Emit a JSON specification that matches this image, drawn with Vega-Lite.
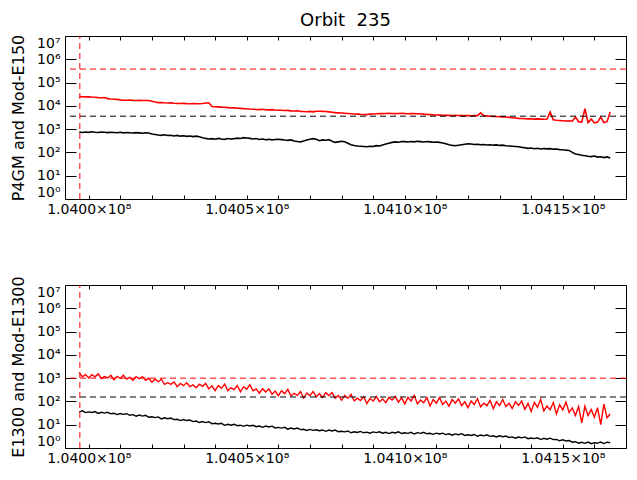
{
  "$schema": "https://vega.github.io/schema/vega-lite/v6.json",
  "padding": {"left": 9, "top": 11, "right": 5, "bottom": 5},
  "bounds": "flush",
  "spacing": 86,
  "datasets": {
    "d": [
      {"x":103997000,"mod_e150":24800,"p4gm":760,"mod_e1300":1700,"e1300":35.6},
      {"x":103998000,"mod_e150":24500,"p4gm":720,"mod_e1300":1150,"e1300":39.3},
      {"x":103999000,"mod_e150":24300,"p4gm":750,"mod_e1300":1415,"e1300":33.2},
      {"x":104000000,"mod_e150":24400,"p4gm":730,"mod_e1300":1009,"e1300":35.5},
      {"x":104001000,"mod_e150":23900,"p4gm":770,"mod_e1300":1407,"e1300":33.4},
      {"x":104002000,"mod_e150":23600,"p4gm":740,"mod_e1300":1148,"e1300":36.6},
      {"x":104003000,"mod_e150":22600,"p4gm":720,"mod_e1300":1521,"e1300":30.7},
      {"x":104004000,"mod_e150":22300,"p4gm":750,"mod_e1300":968,"e1300":34.4},
      {"x":104005000,"mod_e150":22700,"p4gm":730,"mod_e1300":1172,"e1300":31.5},
      {"x":104006000,"mod_e150":20500,"p4gm":710,"mod_e1300":1015,"e1300":34.3},
      {"x":104007000,"mod_e150":19600,"p4gm":740,"mod_e1300":1327,"e1300":29.4},
      {"x":104008000,"mod_e150":19300,"p4gm":720,"mod_e1300":844,"e1300":30.8},
      {"x":104009000,"mod_e150":19000,"p4gm":700,"mod_e1300":1195,"e1300":27.3},
      {"x":104010000,"mod_e150":18000,"p4gm":730,"mod_e1300":981,"e1300":30.4},
      {"x":104011000,"mod_e150":17500,"p4gm":690,"mod_e1300":1320,"e1300":27.9},
      {"x":104012000,"mod_e150":17300,"p4gm":720,"mod_e1300":905,"e1300":29.6},
      {"x":104013000,"mod_e150":17600,"p4gm":700,"mod_e1300":1071,"e1300":25.4},
      {"x":104014000,"mod_e150":17200,"p4gm":680,"mod_e1300":814,"e1300":27.1},
      {"x":104015000,"mod_e150":17000,"p4gm":710,"mod_e1300":1145,"e1300":23.3},
      {"x":104016000,"mod_e150":17300,"p4gm":690,"mod_e1300":940,"e1300":25.9},
      {"x":104017000,"mod_e150":17100,"p4gm":670,"mod_e1300":1162,"e1300":23.4},
      {"x":104018000,"mod_e150":16900,"p4gm":700,"mod_e1300":797,"e1300":25.3},
      {"x":104019000,"mod_e150":17000,"p4gm":680,"mod_e1300":985,"e1300":20.9},
      {"x":104020000,"mod_e150":15800,"p4gm":620,"mod_e1300":675,"e1300":21.9},
      {"x":104021000,"mod_e150":14600,"p4gm":590,"mod_e1300":904,"e1300":20.2},
      {"x":104022000,"mod_e150":13800,"p4gm":560,"mod_e1300":704,"e1300":21.7},
      {"x":104023000,"mod_e150":13900,"p4gm":540,"mod_e1300":896,"e1300":17.8},
      {"x":104024000,"mod_e150":13500,"p4gm":570,"mod_e1300":540,"e1300":19.8},
      {"x":104025000,"mod_e150":13300,"p4gm":530,"mod_e1300":637,"e1300":18.0},
      {"x":104026000,"mod_e150":13400,"p4gm":550,"mod_e1300":540,"e1300":19.4},
      {"x":104027000,"mod_e150":12900,"p4gm":510,"mod_e1300":689,"e1300":16.5},
      {"x":104028000,"mod_e150":12700,"p4gm":540,"mod_e1300":427,"e1300":17.1},
      {"x":104029000,"mod_e150":12600,"p4gm":500,"mod_e1300":591,"e1300":15.1},
      {"x":104030000,"mod_e150":12800,"p4gm":520,"mod_e1300":475,"e1300":16.7},
      {"x":104031000,"mod_e150":12500,"p4gm":490,"mod_e1300":635,"e1300":15.1},
      {"x":104032000,"mod_e150":12400,"p4gm":510,"mod_e1300":435,"e1300":15.9},
      {"x":104033000,"mod_e150":12600,"p4gm":480,"mod_e1300":511,"e1300":13.6},
      {"x":104034000,"mod_e150":12300,"p4gm":500,"mod_e1300":388,"e1300":14.3},
      {"x":104035000,"mod_e150":12400,"p4gm":470,"mod_e1300":546,"e1300":12.4},
      {"x":104036000,"mod_e150":12700,"p4gm":430,"mod_e1300":444,"e1300":13.7},
      {"x":104037000,"mod_e150":13300,"p4gm":400,"mod_e1300":594,"e1300":12.3},
      {"x":104038000,"mod_e150":13600,"p4gm":380,"mod_e1300":345,"e1300":13.4},
      {"x":104039000,"mod_e150":9400,"p4gm":390,"mod_e1300":468,"e1300":11.1},
      {"x":104040000,"mod_e150":9200,"p4gm":370,"mod_e1300":292,"e1300":11.6},
      {"x":104041000,"mod_e150":9000,"p4gm":400,"mod_e1300":481,"e1300":10.7},
      {"x":104042000,"mod_e150":8800,"p4gm":380,"mod_e1300":365,"e1300":11.5},
      {"x":104043000,"mod_e150":8700,"p4gm":365,"mod_e1300":557,"e1300":9.41},
      {"x":104044000,"mod_e150":8400,"p4gm":395,"mod_e1300":292,"e1300":10.5},
      {"x":104045000,"mod_e150":8100,"p4gm":375,"mod_e1300":385,"e1300":9.50},
      {"x":104046000,"mod_e150":8200,"p4gm":390,"mod_e1300":321,"e1300":10.5},
      {"x":104047000,"mod_e150":7900,"p4gm":410,"mod_e1300":482,"e1300":9.04},
      {"x":104048000,"mod_e150":7800,"p4gm":395,"mod_e1300":257,"e1300":9.54},
      {"x":104049000,"mod_e150":7600,"p4gm":430,"mod_e1300":430,"e1300":8.52},
      {"x":104050000,"mod_e150":7500,"p4gm":415,"mod_e1300":333,"e1300":9.60},
      {"x":104051000,"mod_e150":7300,"p4gm":400,"mod_e1300":517,"e1300":8.86},
      {"x":104052000,"mod_e150":7200,"p4gm":380,"mod_e1300":288,"e1300":9.49},
      {"x":104053000,"mod_e150":7000,"p4gm":395,"mod_e1300":348,"e1300":8.19},
      {"x":104054000,"mod_e150":6900,"p4gm":360,"mod_e1300":225,"e1300":8.82},
      {"x":104055000,"mod_e150":7100,"p4gm":375,"mod_e1300":352,"e1300":7.72},
      {"x":104056000,"mod_e150":6800,"p4gm":350,"mod_e1300":253,"e1300":8.72},
      {"x":104057000,"mod_e150":6700,"p4gm":365,"mod_e1300":346,"e1300":7.97},
      {"x":104058000,"mod_e150":6900,"p4gm":345,"mod_e1300":204,"e1300":8.69},
      {"x":104059000,"mod_e150":6600,"p4gm":360,"mod_e1300":278,"e1300":7.25},
      {"x":104060000,"mod_e150":6500,"p4gm":370,"mod_e1300":176,"e1300":7.67},
      {"x":104061000,"mod_e150":6500,"p4gm":355,"mod_e1300":288,"e1300":7.13},
      {"x":104062000,"mod_e150":6300,"p4gm":340,"mod_e1300":217,"e1300":7.73},
      {"x":104063000,"mod_e150":6400,"p4gm":330,"mod_e1300":328,"e1300":6.41},
      {"x":104064000,"mod_e150":6100,"p4gm":345,"mod_e1300":171,"e1300":7.18},
      {"x":104065000,"mod_e150":6000,"p4gm":310,"mod_e1300":223,"e1300":6.57},
      {"x":104066000,"mod_e150":6200,"p4gm":295,"mod_e1300":181,"e1300":7.18},
      {"x":104067000,"mod_e150":5800,"p4gm":285,"mod_e1300":264,"e1300":6.16},
      {"x":104068000,"mod_e150":5700,"p4gm":310,"mod_e1300":139,"e1300":6.40},
      {"x":104069000,"mod_e150":5600,"p4gm":340,"mod_e1300":230,"e1300":5.65},
      {"x":104070000,"mod_e150":5800,"p4gm":370,"mod_e1300":175,"e1300":6.28},
      {"x":104071000,"mod_e150":5500,"p4gm":390,"mod_e1300":269,"e1300":5.72},
      {"x":104072000,"mod_e150":5900,"p4gm":370,"mod_e1300":159,"e1300":6.05},
      {"x":104073000,"mod_e150":5900,"p4gm":320,"mod_e1300":220,"e1300":5.55},
      {"x":104074000,"mod_e150":5800,"p4gm":345,"mod_e1300":147,"e1300":5.95},
      {"x":104075000,"mod_e150":5700,"p4gm":335,"mod_e1300":238,"e1300":5.21},
      {"x":104076000,"mod_e150":5500,"p4gm":355,"mod_e1300":178,"e1300":5.87},
      {"x":104077000,"mod_e150":5300,"p4gm":300,"mod_e1300":240,"e1300":5.39},
      {"x":104078000,"mod_e150":5100,"p4gm":270,"mod_e1300":139,"e1300":5.92},
      {"x":104079000,"mod_e150":5000,"p4gm":285,"mod_e1300":181,"e1300":4.97},
      {"x":104080000,"mod_e150":4900,"p4gm":300,"mod_e1300":112,"e1300":5.27},
      {"x":104081000,"mod_e150":4800,"p4gm":290,"mod_e1300":182,"e1300":4.94},
      {"x":104082000,"mod_e150":4700,"p4gm":250,"mod_e1300":136,"e1300":5.39},
      {"x":104083000,"mod_e150":4600,"p4gm":215,"mod_e1300":204,"e1300":4.50},
      {"x":104084000,"mod_e150":4500,"p4gm":200,"mod_e1300":105,"e1300":4.97},
      {"x":104085000,"mod_e150":4400,"p4gm":190,"mod_e1300":137,"e1300":4.63},
      {"x":104086000,"mod_e150":4300,"p4gm":185,"mod_e1300":110,"e1300":5.15},
      {"x":104087000,"mod_e150":4250,"p4gm":180,"mod_e1300":160,"e1300":4.50},
      {"x":104088000,"mod_e150":4200,"p4gm":175,"mod_e1300":82,"e1300":4.79},
      {"x":104089000,"mod_e150":4400,"p4gm":185,"mod_e1300":133,"e1300":4.32},
      {"x":104090000,"mod_e150":4500,"p4gm":180,"mod_e1300":104,"e1300":4.93},
      {"x":104091000,"mod_e150":4600,"p4gm":195,"mod_e1300":162,"e1300":4.58},
      {"x":104092000,"mod_e150":4700,"p4gm":190,"mod_e1300":97,"e1300":4.96},
      {"x":104093000,"mod_e150":4650,"p4gm":210,"mod_e1300":127,"e1300":4.33},
      {"x":104094000,"mod_e150":4700,"p4gm":230,"mod_e1300":89,"e1300":4.70},
      {"x":104095000,"mod_e150":4750,"p4gm":250,"mod_e1300":149,"e1300":4.16},
      {"x":104096000,"mod_e150":4700,"p4gm":270,"mod_e1300":116,"e1300":4.75},
      {"x":104097000,"mod_e150":4650,"p4gm":285,"mod_e1300":163,"e1300":4.43},
      {"x":104098000,"mod_e150":4700,"p4gm":275,"mod_e1300":92,"e1300":4.93},
      {"x":104099000,"mod_e150":4750,"p4gm":295,"mod_e1300":142,"e1300":4.18},
      {"x":104100000,"mod_e150":4700,"p4gm":290,"mod_e1300":78,"e1300":4.50},
      {"x":104101000,"mod_e150":4600,"p4gm":280,"mod_e1300":150,"e1300":4.27},
      {"x":104102000,"mod_e150":4650,"p4gm":295,"mod_e1300":105,"e1300":4.72},
      {"x":104103000,"mod_e150":4700,"p4gm":285,"mod_e1300":183,"e1300":3.99},
      {"x":104104000,"mod_e150":4600,"p4gm":300,"mod_e1300":79,"e1300":4.56},
      {"x":104105000,"mod_e150":4550,"p4gm":290,"mod_e1300":114,"e1300":4.25},
      {"x":104106000,"mod_e150":4400,"p4gm":280,"mod_e1300":88,"e1300":4.69},
      {"x":104107000,"mod_e150":4300,"p4gm":295,"mod_e1300":146,"e1300":4.07},
      {"x":104108000,"mod_e150":4200,"p4gm":285,"mod_e1300":64,"e1300":4.30},
      {"x":104109000,"mod_e150":4100,"p4gm":275,"mod_e1300":121,"e1300":3.85},
      {"x":104110000,"mod_e150":4050,"p4gm":280,"mod_e1300":84,"e1300":4.35},
      {"x":104111000,"mod_e150":4000,"p4gm":270,"mod_e1300":148,"e1300":4.03},
      {"x":104112000,"mod_e150":3950,"p4gm":255,"mod_e1300":74,"e1300":4.34},
      {"x":104113000,"mod_e150":3900,"p4gm":235,"mod_e1300":103,"e1300":3.75},
      {"x":104114000,"mod_e150":3900,"p4gm":215,"mod_e1300":62,"e1300":4.05},
      {"x":104115000,"mod_e150":3850,"p4gm":200,"mod_e1300":120,"e1300":3.56},
      {"x":104116000,"mod_e150":3900,"p4gm":195,"mod_e1300":84,"e1300":4.03},
      {"x":104117000,"mod_e150":3850,"p4gm":205,"mod_e1300":128,"e1300":3.71},
      {"x":104118000,"mod_e150":3800,"p4gm":215,"mod_e1300":65,"e1300":4.11},
      {"x":104119000,"mod_e150":3850,"p4gm":225,"mod_e1300":97,"e1300":3.46},
      {"x":104120000,"mod_e150":3800,"p4gm":235,"mod_e1300":54,"e1300":3.70},
      {"x":104121000,"mod_e150":3750,"p4gm":230,"mod_e1300":105,"e1300":3.47},
      {"x":104122000,"mod_e150":3800,"p4gm":220,"mod_e1300":74,"e1300":3.80},
      {"x":104123000,"mod_e150":3800,"p4gm":225,"mod_e1300":132,"e1300":3.19},
      {"x":104124000,"mod_e150":5000,"p4gm":215,"mod_e1300":58,"e1300":3.61},
      {"x":104125000,"mod_e150":3800,"p4gm":220,"mod_e1300":84,"e1300":3.33},
      {"x":104126000,"mod_e150":3700,"p4gm":210,"mod_e1300":66,"e1300":3.68},
      {"x":104127000,"mod_e150":3600,"p4gm":215,"mod_e1300":111,"e1300":3.17},
      {"x":104128000,"mod_e150":3550,"p4gm":205,"mod_e1300":49,"e1300":3.33},
      {"x":104129000,"mod_e150":3500,"p4gm":210,"mod_e1300":96,"e1300":2.97},
      {"x":104130000,"mod_e150":3400,"p4gm":200,"mod_e1300":67,"e1300":3.33},
      {"x":104131000,"mod_e150":3350,"p4gm":205,"mod_e1300":120,"e1300":3.06},
      {"x":104132000,"mod_e150":3300,"p4gm":195,"mod_e1300":60,"e1300":3.26},
      {"x":104133000,"mod_e150":3200,"p4gm":190,"mod_e1300":83,"e1300":2.81},
      {"x":104134000,"mod_e150":3100,"p4gm":185,"mod_e1300":50,"e1300":3.00},
      {"x":104135000,"mod_e150":3000,"p4gm":180,"mod_e1300":97,"e1300":2.63},
      {"x":104136000,"mod_e150":2900,"p4gm":175,"mod_e1300":68,"e1300":2.96},
      {"x":104137000,"mod_e150":2850,"p4gm":165,"mod_e1300":103,"e1300":2.72},
      {"x":104138000,"mod_e150":2800,"p4gm":160,"mod_e1300":46,"e1300":3.00},
      {"x":104139000,"mod_e150":2750,"p4gm":150,"mod_e1300":83,"e1300":2.52},
      {"x":104140000,"mod_e150":2800,"p4gm":155,"mod_e1300":37,"e1300":2.68},
      {"x":104141000,"mod_e150":2700,"p4gm":145,"mod_e1300":92,"e1300":2.52},
      {"x":104142000,"mod_e150":2750,"p4gm":150,"mod_e1300":56,"e1300":2.75},
      {"x":104143000,"mod_e150":2700,"p4gm":140,"mod_e1300":122,"e1300":2.30},
      {"x":104144000,"mod_e150":2650,"p4gm":148,"mod_e1300":39,"e1300":2.61},
      {"x":104145000,"mod_e150":2700,"p4gm":142,"mod_e1300":64,"e1300":2.40},
      {"x":104146000,"mod_e150":5400,"p4gm":145,"mod_e1300":44,"e1300":2.64},
      {"x":104147000,"mod_e150":2500,"p4gm":138,"mod_e1300":90,"e1300":2.29},
      {"x":104148000,"mod_e150":2400,"p4gm":140,"mod_e1300":29,"e1300":2.34},
      {"x":104149000,"mod_e150":2350,"p4gm":132,"mod_e1300":71,"e1300":2.04},
      {"x":104150000,"mod_e150":2300,"p4gm":130,"mod_e1300":43,"e1300":2.24},
      {"x":104151000,"mod_e150":2250,"p4gm":125,"mod_e1300":93,"e1300":2.01},
      {"x":104152000,"mod_e150":2300,"p4gm":122,"mod_e1300":34,"e1300":2.10},
      {"x":104153000,"mod_e150":2200,"p4gm":100,"mod_e1300":53,"e1300":1.77},
      {"x":104154000,"mod_e150":3300,"p4gm":85,"mod_e1300":25,"e1300":1.86},
      {"x":104155000,"mod_e150":2100,"p4gm":82,"mod_e1300":60,"e1300":1.60},
      {"x":104156000,"mod_e150":2000,"p4gm":76,"mod_e1300":12,"e1300":1.76},
      {"x":104157000,"mod_e150":7500,"p4gm":72,"mod_e1300":62,"e1300":1.59},
      {"x":104158000,"mod_e150":1900,"p4gm":68,"mod_e1300":25,"e1300":1.80},
      {"x":104159000,"mod_e150":2700,"p4gm":66,"mod_e1300":45,"e1300":1.54},
      {"x":104160000,"mod_e150":1850,"p4gm":70,"mod_e1300":21,"e1300":1.68},
      {"x":104161000,"mod_e150":2000,"p4gm":63,"mod_e1300":54,"e1300":1.62},
      {"x":104162000,"mod_e150":3300,"p4gm":65,"mod_e1300":10,"e1300":1.80},
      {"x":104163000,"mod_e150":1900,"p4gm":60,"mod_e1300":77,"e1300":1.55},
      {"x":104164000,"mod_e150":2100,"p4gm":64,"mod_e1300":20,"e1300":1.79},
      {"x":104165000,"mod_e150":5500,"p4gm":58,"mod_e1300":29,"e1300":1.69}
    ]
  },
  "vconcat": [
    {
      "title": {"text": "Orbit \u00a0235", "fontSize": 18, "fontWeight": "normal", "font": "DejaVu Sans", "color": "black", "anchor": "middle", "frame": "group", "baseline": "alphabetic", "offset": -10},
      "width": 561,
      "height": 163,
      "layer": [
        {
          "layer": [
            {
              "data": {"name": "d"},
              "transform": [{"fold": ["mod_e150", "p4gm"], "as": ["series", "value"]}],
              "mark": {"type": "line", "strokeWidth": 1.6, "clip": true},
              "encoding": {
                "x": {"field": "x", "type": "quantitative", "title": null,
                  "scale": {"domain": [103992500, 104170000], "nice": false, "zero": false},
                  "axis": {"orient": "bottom", "values": [104000000,104010000,104020000,104030000,104040000,104050000,104060000,104070000,104080000,104090000,104100000,104110000,104120000,104130000,104140000,104150000,104160000,104170000],
                    "labelExpr": "datum.value % 50000 == 0 ? format(datum.value / 100000000, '.4f') + '×10⁸' : ''",
                    "tickSize": -4, "labelPadding": 7, "labelFlush": false, "labelBound": false}},
                "y": {"field": "value", "type": "quantitative", "title": "P4GM and Mod-E150",
                  "scale": {"type": "log", "domain": [1, 10000000], "nice": false},
                  "axis": {"orient": "left", "values": [1,10,100,1000,10000,100000,1000000,10000000],
                    "labelExpr": "'10' + ['⁰','¹','²','³','⁴','⁵','⁶','⁷'][round(log(datum.value) / LN10)]",
                    "tickSize": -11, "labelPadding": 16, "labelFlush": true,
                    "titleX": -42, "titleY": 81.5, "titleAngle": 270, "titleBaseline": "alphabetic", "titleAlign": "center"}},
                "color": {"field": "series", "type": "nominal", "scale": {"domain": ["mod_e150", "p4gm"], "range": ["#ff0000", "#000000"]}, "legend": null}
              }
            },
            {
              "data": {"values": [{"level": 380000}]},
              "mark": {"type": "rule", "color": "#ff0000", "strokeDash": [6, 4], "strokeWidth": 1},
              "encoding": {"y": {"field": "level", "type": "quantitative", "title": "P4GM and Mod-E150"}}
            },
            {
              "data": {"values": [{"level": 3600}]},
              "mark": {"type": "rule", "color": "#000000", "strokeDash": [6, 4], "strokeWidth": 1},
              "encoding": {"y": {"field": "level", "type": "quantitative", "title": "P4GM and Mod-E150"}}
            }
          ]
        },
        {
          "data": {"values": [{"t": 103997200}]},
          "mark": {"type": "rule", "color": "#ff0000", "strokeDash": [6, 4], "strokeWidth": 1},
          "encoding": {
            "x": {"field": "t", "type": "quantitative", "title": null,
              "scale": {"domain": [103992500, 104170000], "nice": false, "zero": false},
              "axis": {"orient": "top", "values": [104000000,104010000,104020000,104030000,104040000,104050000,104060000,104070000,104080000,104090000,104100000,104110000,104120000,104130000,104140000,104150000,104160000,104170000], "labels": false, "tickSize": -4}},
            "y": {"datum": 1, "title": null,
              "scale": {"type": "log", "domain": [1, 10000000], "nice": false},
              "axis": {"orient": "right", "values": [1,10,100,1000,10000,100000,1000000,10000000], "labels": false, "tickSize": -11}},
            "y2": {"datum": 10000000}
          }
        }
      ],
      "resolve": {"scale": {"x": "independent", "y": "independent"}}
    },
    {
      "width": 561,
      "height": 163,
      "layer": [
        {
          "layer": [
            {
              "data": {"name": "d"},
              "transform": [{"fold": ["mod_e1300", "e1300"], "as": ["series", "value"]}],
              "mark": {"type": "line", "strokeWidth": 1.4, "clip": true},
              "encoding": {
                "x": {"field": "x", "type": "quantitative", "title": null,
                  "scale": {"domain": [103992500, 104170000], "nice": false, "zero": false},
                  "axis": {"orient": "bottom", "values": [104000000,104010000,104020000,104030000,104040000,104050000,104060000,104070000,104080000,104090000,104100000,104110000,104120000,104130000,104140000,104150000,104160000,104170000],
                    "labelExpr": "datum.value % 50000 == 0 ? format(datum.value / 100000000, '.4f') + '×10⁸' : ''",
                    "tickSize": -4, "labelPadding": 7, "labelFlush": false, "labelBound": false}},
                "y": {"field": "value", "type": "quantitative", "title": "E1300 and Mod-E1300",
                  "scale": {"type": "log", "domain": [1, 10000000], "nice": false},
                  "axis": {"orient": "left", "values": [1,10,100,1000,10000,100000,1000000,10000000],
                    "labelExpr": "'10' + ['⁰','¹','²','³','⁴','⁵','⁶','⁷'][round(log(datum.value) / LN10)]",
                    "tickSize": -11, "labelPadding": 16, "labelFlush": true,
                    "titleX": -42, "titleY": 81.5, "titleAngle": 270, "titleBaseline": "alphabetic", "titleAlign": "center"}},
                "color": {"field": "series", "type": "nominal", "scale": {"domain": ["mod_e1300", "e1300"], "range": ["#ff0000", "#000000"]}, "legend": null}
              }
            },
            {
              "data": {"values": [{"level": 1000}]},
              "mark": {"type": "rule", "color": "#ff0000", "strokeDash": [6, 4], "strokeWidth": 1},
              "encoding": {"y": {"field": "level", "type": "quantitative", "title": "E1300 and Mod-E1300"}}
            },
            {
              "data": {"values": [{"level": 155}]},
              "mark": {"type": "rule", "color": "#000000", "strokeDash": [6, 4], "strokeWidth": 1},
              "encoding": {"y": {"field": "level", "type": "quantitative", "title": "E1300 and Mod-E1300"}}
            }
          ]
        },
        {
          "data": {"values": [{"t": 103997200}]},
          "mark": {"type": "rule", "color": "#ff0000", "strokeDash": [6, 4], "strokeWidth": 1},
          "encoding": {
            "x": {"field": "t", "type": "quantitative", "title": null,
              "scale": {"domain": [103992500, 104170000], "nice": false, "zero": false},
              "axis": {"orient": "top", "values": [104000000,104010000,104020000,104030000,104040000,104050000,104060000,104070000,104080000,104090000,104100000,104110000,104120000,104130000,104140000,104150000,104160000,104170000], "labels": false, "tickSize": -4}},
            "y": {"datum": 1, "title": null,
              "scale": {"type": "log", "domain": [1, 10000000], "nice": false},
              "axis": {"orient": "right", "values": [1,10,100,1000,10000,100000,1000000,10000000], "labels": false, "tickSize": -11}},
            "y2": {"datum": 10000000}
          }
        }
      ],
      "resolve": {"scale": {"x": "independent", "y": "independent"}}
    }
  ],
  "config": {
    "font": "DejaVu Sans",
    "background": "white",
    "view": {"stroke": "black", "strokeWidth": 1},
    "axis": {"grid": false, "domain": false, "ticks": true, "tickColor": "black", "tickWidth": 1, "labelColor": "black", "titleColor": "black", "labelFont": "DejaVu Sans", "labelFontSize": 14, "titleFont": "DejaVu Sans", "titleFontSize": 16, "titleFontWeight": "normal", "labelOverlap": false}
  }
}
